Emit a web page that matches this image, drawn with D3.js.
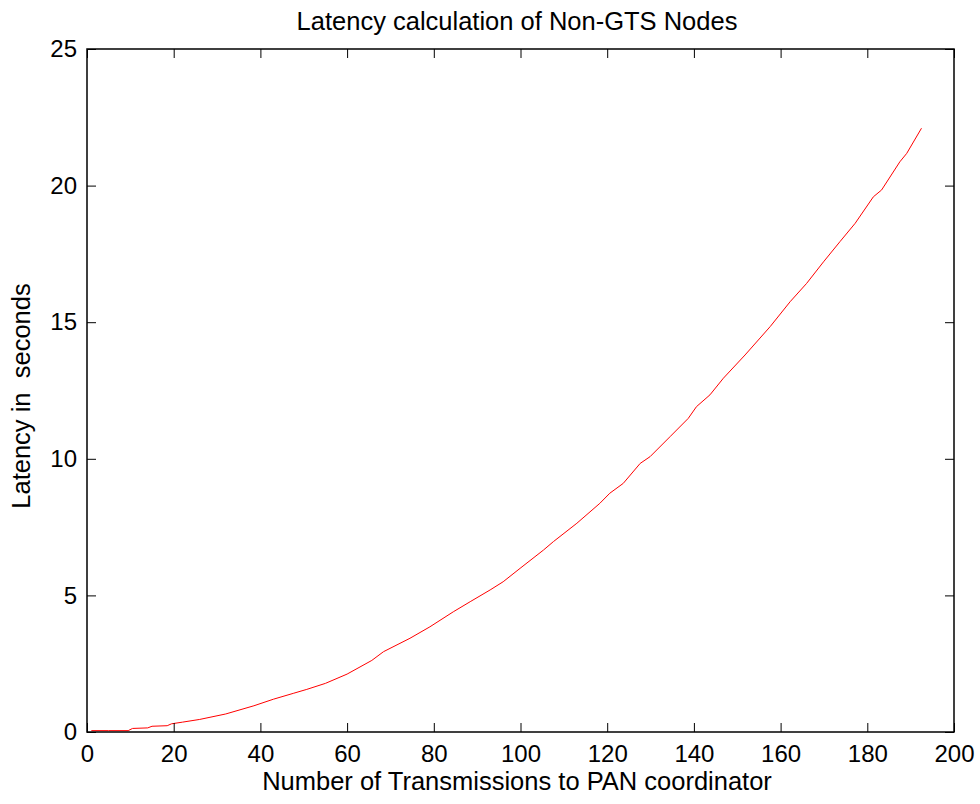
<!DOCTYPE html>
<html>
<head>
<meta charset="utf-8">
<script src="https://cdn.jsdelivr.net/npm/d3@7"></script>
<style>
  html, body { margin: 0; padding: 0; background: #fff; }
  svg { display: block; }
  text { font-family: "Liberation Sans", Arial, sans-serif; fill: #000; }
</style>
</head>
<body>
<svg id="chart" width="980" height="804"></svg>
<script>
// Number of transmissions to the PAN coordinator
const transmissions = [1, 5, 9.5, 10.5, 14, 15, 18.5, 19.5, 22, 26, 32, 38.5, 43, 47.7, 50.7, 55, 60,
  65.7, 68.4, 74.5, 79.1, 84.5, 88.4, 93, 96, 99.9, 105.3, 107.6, 113, 118.3, 120.6, 123.7, 127.6,
  129.9, 134.5, 138.7, 140.6, 143.7, 146.8, 151.8, 157.6, 162.2, 166, 169.9, 173.7, 177.2, 181.4,
  183.3, 187.5, 189.1, 192.5];
// Latency in seconds of Non-GTS nodes
const latency = [0.05, 0.05, 0.05, 0.13, 0.15, 0.21, 0.23, 0.3, 0.36, 0.46, 0.66, 0.96, 1.2, 1.42,
  1.56, 1.78, 2.12, 2.62, 2.94, 3.43, 3.85, 4.4, 4.77, 5.2, 5.5, 5.99, 6.66, 6.97, 7.64, 8.37, 8.74,
  9.1, 9.83, 10.08, 10.81, 11.48, 11.91, 12.34, 12.95, 13.8, 14.84, 15.75, 16.42, 17.21, 17.95,
  18.62, 19.59, 19.84, 20.87, 21.18, 22.1];

const xTicks = [0, 20, 40, 60, 80, 100, 120, 140, 160, 180, 200];
const yTicks = [0, 5, 10, 15, 20, 25];

const titleText = "Latency calculation of Non-GTS Nodes";
const xLabel = "Number of Transmissions to PAN coordinator";
const yLabel = "Latency in  seconds";

const svg = d3.select("#chart");
const plotLeft = 87, plotRight = 954, plotTop = 49, plotBottom = 732;
const tickLen = 9;

const x = d3.scaleLinear().domain([0, 200]).range([plotLeft, plotRight]);
const y = d3.scaleLinear().domain([0, 25]).range([plotBottom, plotTop]);

// Data line
const pts = transmissions.map((t, i) => [t, latency[i]]);
svg.append("path")
  .datum(pts)
  .attr("fill", "none")
  .attr("stroke", "#ff0000")
  .attr("stroke-width", 1)
  .attr("d", d3.line().x(d => x(d[0])).y(d => y(d[1])));

// Axes with inward ticks on all four sides
const fontSize = "24px";
svg.append("g").attr("transform", `translate(0,${plotBottom})`)
  .call(d3.axisBottom(x).tickValues(xTicks).tickSizeInner(-tickLen).tickSizeOuter(0).tickPadding(13))
  .call(g => g.selectAll("text").style("font-size", fontSize).attr("font-family", "Liberation Sans, Arial, sans-serif"));
svg.append("g").attr("transform", `translate(0,${plotTop})`)
  .call(d3.axisTop(x).tickValues(xTicks).tickSizeInner(-tickLen).tickSizeOuter(0).tickFormat(""));
svg.append("g").attr("transform", `translate(${plotLeft},0)`)
  .call(d3.axisLeft(y).tickValues(yTicks).tickSizeInner(-tickLen).tickSizeOuter(0).tickPadding(10))
  .call(g => g.selectAll("text").style("font-size", fontSize).attr("font-family", "Liberation Sans, Arial, sans-serif"));
svg.append("g").attr("transform", `translate(${plotRight},0)`)
  .call(d3.axisRight(y).tickValues(yTicks).tickSizeInner(-tickLen).tickSizeOuter(0).tickFormat(""));

svg.selectAll(".domain").remove();
svg.selectAll(".tick line").attr("stroke", "#000").attr("stroke-width", 1);

// Axes box
svg.append("rect")
  .attr("x", plotLeft).attr("y", plotTop)
  .attr("width", plotRight - plotLeft).attr("height", plotBottom - plotTop)
  .attr("fill", "none").attr("stroke", "#000").attr("stroke-width", 1.5);

// Title and axis labels
svg.append("text").attr("x", 517).attr("y", 30)
  .attr("text-anchor", "middle").style("font-size", "25.5px").text(titleText);
svg.append("text").attr("x", 517).attr("y", 790)
  .attr("text-anchor", "middle").style("font-size", "25.5px").text(xLabel);
svg.append("text").attr("transform", `translate(30,396) rotate(-90)`)
  .attr("text-anchor", "middle").style("font-size", "25.5px").style("white-space", "pre")
  .text(yLabel);
</script>
</body>
</html>
